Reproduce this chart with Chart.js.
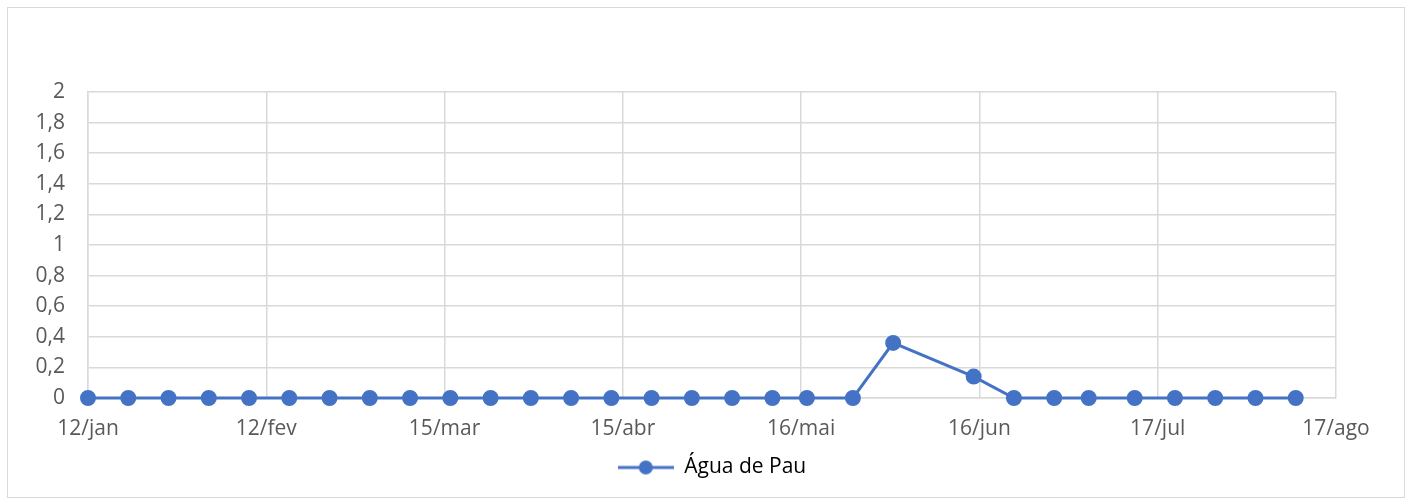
<!DOCTYPE html>
<html>
<head>
<meta charset="utf-8">
<script src="https://cdn.jsdelivr.net/npm/chart.js@4"></script>
<style>
  html, body { margin: 0; padding: 0; background: #fff; }
  #wrap { width: 1412px; height: 504px; }
</style>
</head>
<body>
<div id="wrap"><canvas id="line-chart" width="1412" height="504"></canvas></div>
<script>
// sample dates (2019) and measured values
const sampleDates = [
  "2019-01-12", "2019-01-19", "2019-01-26", "2019-02-02", "2019-02-09", "2019-02-16",
  "2019-02-23", "2019-03-02", "2019-03-09", "2019-03-16", "2019-03-23", "2019-03-30",
  "2019-04-06", "2019-04-13", "2019-04-20", "2019-04-27", "2019-05-04", "2019-05-11",
  "2019-05-17", "2019-05-25", "2019-06-01", "2019-06-15", "2019-06-22", "2019-06-29",
  "2019-07-05", "2019-07-13", "2019-07-20", "2019-07-27", "2019-08-03", "2019-08-10"
];
const aguaDePau = [
  0, 0, 0, 0, 0, 0,
  0, 0, 0, 0, 0, 0,
  0, 0, 0, 0, 0, 0,
  0, 0, 0.36, 0.14, 0, 0,
  0, 0, 0, 0, 0, 0
];
const tickLabels = ["12/jan", "12/fev", "15/mar", "15/abr", "16/mai", "16/jun", "17/jul", "17/ago"];
const seriesName = "Água de Pau";

const startDate = "2019-01-12";
const endDate = "2019-08-17";
const tickStep = 31; // days between date-axis labels

function dayOf(s) {
  const p = s.split("-").map(Number);
  return (Date.UTC(p[0], p[1] - 1, p[2]) - Date.UTC(2019, 0, 12)) / 86400000;
}

const points = sampleDates.map((d, i) => ({ x: dayOf(d), y: aguaDePau[i] }));

const blue = "#4472C4";
const grid = "#d9d9d9";
const textCol = "#595959";
const fontFam = "'Open Sans', Lato, sans-serif";
const fontSize = 21;

// legend marker: line with a dot
const marker = document.createElement("canvas");
marker.width = 56; marker.height = 18;
(function () {
  const c = marker.getContext("2d");
  c.strokeStyle = blue; c.lineWidth = 3;
  c.beginPath(); c.moveTo(0, 9); c.lineTo(56, 9); c.stroke();
  c.fillStyle = blue;
  c.beginPath(); c.arc(28, 9, 7, 0, Math.PI * 2); c.fill();
})();

const frame = {
  id: "frame",
  beforeDraw(chart) {
    const c = chart.ctx;
    c.save();
    c.fillStyle = "#fff";
    c.fillRect(0, 0, chart.width, chart.height);
    c.strokeStyle = grid; c.lineWidth = 1;
    c.strokeRect(7.5, 7.5, 1397, 490);
    c.restore();
  }
};

new Chart(document.getElementById("line-chart"), {
  type: "line",
  data: {
    datasets: [{
      label: seriesName,
      data: points,
      borderColor: blue,
      backgroundColor: blue,
      borderWidth: 3,
      pointStyle: "circle",
      pointRadius: 6.5,
      pointHoverRadius: 6.5,
      pointBackgroundColor: blue,
      pointBorderColor: blue,
      fill: false,
      tension: 0,
      clip: false
    }]
  },
  options: {
    responsive: false,
    animation: false,
    devicePixelRatio: 1,
    layout: { padding: { left: 0, right: 76, top: 92, bottom: 16 } },
    scales: {
      x: {
        type: "linear",
        min: dayOf(startDate),
        max: dayOf(endDate),
        afterBuildTicks(scale) {
          scale.ticks = tickLabels.map((t, i) => ({ value: i * tickStep }));
        },
        afterFit(scale) { scale.height = 47; },
        grid: { color: grid, lineWidth: 1.5, drawTicks: false },
        border: { color: grid, width: 1.5 },
        ticks: {
          padding: 18,
          color: textCol,
          font: { family: fontFam, size: fontSize },
          maxRotation: 0,
          autoSkip: false,
          callback: (v, i) => tickLabels[i]
        }
      },
      y: {
        min: 0,
        max: 2,
        afterFit(scale) { scale.width = 88; },
        grid: { color: grid, lineWidth: 1.5, drawTicks: false },
        border: { color: grid, width: 1.5 },
        ticks: {
          stepSize: 0.2,
          padding: 23,
          color: textCol,
          font: { family: fontFam, size: fontSize },
          callback: v => String(Math.round(v * 10) / 10).replace(".", ",")
        }
      }
    },
    plugins: {
      tooltip: { enabled: false },
      legend: {
        display: true,
        position: "bottom",
        fullSize: false,
        labels: {
          usePointStyle: true,
          pointStyleWidth: 56,
          color: textCol,
          font: { family: fontFam, size: fontSize },
          padding: 12,
          generateLabels: chart => [{
            text: seriesName,
            fillStyle: blue,
            strokeStyle: blue,
            pointStyle: marker,
            lineWidth: 0,
            datasetIndex: 0,
            hidden: false
          }]
        }
      }
    }
  },
  plugins: [frame]
});
</script>
</body>
</html>
